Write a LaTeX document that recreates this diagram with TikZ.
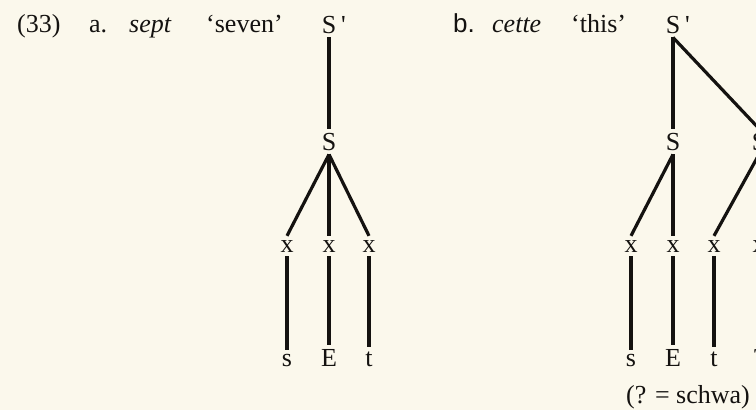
\documentclass[tikz,border=0pt]{standalone}
\usepackage{fontspec}
\setmainfont{Liberation Serif}
\newfontfamily\labsans{Liberation Sans}
\definecolor{paper}{RGB}{251,248,236}
\definecolor{ink}{RGB}{20,18,16}
\begin{document}
\begin{tikzpicture}[x=1pt,y=-1pt,
  every node/.style={font=\fontsize{26}{30}\selectfont, text=ink, inner sep=0pt},
  txt/.style={anchor=base west},
  lab/.style={anchor=base, inner sep=4pt},
  branch/.style={draw=ink, line width=3.2pt, line cap=butt}]
\useasboundingbox (0,0) rectangle (756,410);
\fill[paper] (0,0) rectangle (756,410);
\clip (0,0) rectangle (756,410);
% header texts
\node[txt] (num) at (17,32) {(33)};
\node[txt] (a) at (89,32) {a.};
\node[txt] (sept) at (129,32) {\itshape sept};
\node[txt] (seven) at (206,32) {‘seven’};
\node[txt] (b) at (453,32) {\labsans b.};
\node[txt] (cette) at (492,32) {\itshape cette};
\node[txt] (this) at (571,32) {‘this’};
% tree a
\node[lab] (aSp) at (329,33) {S\rlap{\hspace{5pt}\textquotesingle}};
\node[lab] (aS) at (329,150) {S};
\node[lab] (ax1) at (287,252) {x};
\node[lab] (ax2) at (329,252) {x};
\node[lab] (ax3) at (369,252) {x};
\node[lab] (as1) at (287,366) {s};
\node[lab] (as2) at (329,366) {E};
\node[lab] (as3) at (369,366) {t};
\draw[branch] (aSp.south) -- (aS.north);
\draw[branch] (aS.south) -- (ax1.north);
\draw[branch] (aS.south) -- (ax2.north);
\draw[branch] (aS.south) -- (ax3.north);
\draw[branch] (ax1.south) -- (as1.north);
\draw[branch] (ax2.south) -- (as2.north);
\draw[branch] (ax3.south) -- (as3.north);
% tree b
\node[lab] (bSp) at (673,33) {S\rlap{\hspace{5pt}\textquotesingle}};
\node[lab] (bS1) at (673,150) {S};
\node[lab] (bS2) at (759,150) {S};
\node[lab] (bx1) at (631,252) {x};
\node[lab] (bx2) at (673,252) {x};
\node[lab] (bx3) at (714,252) {x};
\node[lab] (bx4) at (759,252) {x};
\node[lab] (bs1) at (631,366) {s};
\node[lab] (bs2) at (673,366) {E};
\node[lab] (bs3) at (714,366) {t};
\node[lab] (bs4) at (759,366) {?};
\draw[branch] (bSp.south) -- (bS1.north);
\draw[branch] (bSp.south) -- (bS2.north);
\draw[branch] (bS1.south) -- (bx1.north);
\draw[branch] (bS1.south) -- (bx2.north);
\draw[branch] (bS2.south) -- (bx3.north);
\draw[branch] (bS2.south) -- (bx4.north);
\draw[branch] (bx1.south) -- (bs1.north);
\draw[branch] (bx2.south) -- (bs2.north);
\draw[branch] (bx3.south) -- (bs3.north);
\draw[branch] (bx4.south) -- (bs4.north);
\node[txt] (schwa) at (626,403) {(? = schwa)};
\end{tikzpicture}
\end{document}
